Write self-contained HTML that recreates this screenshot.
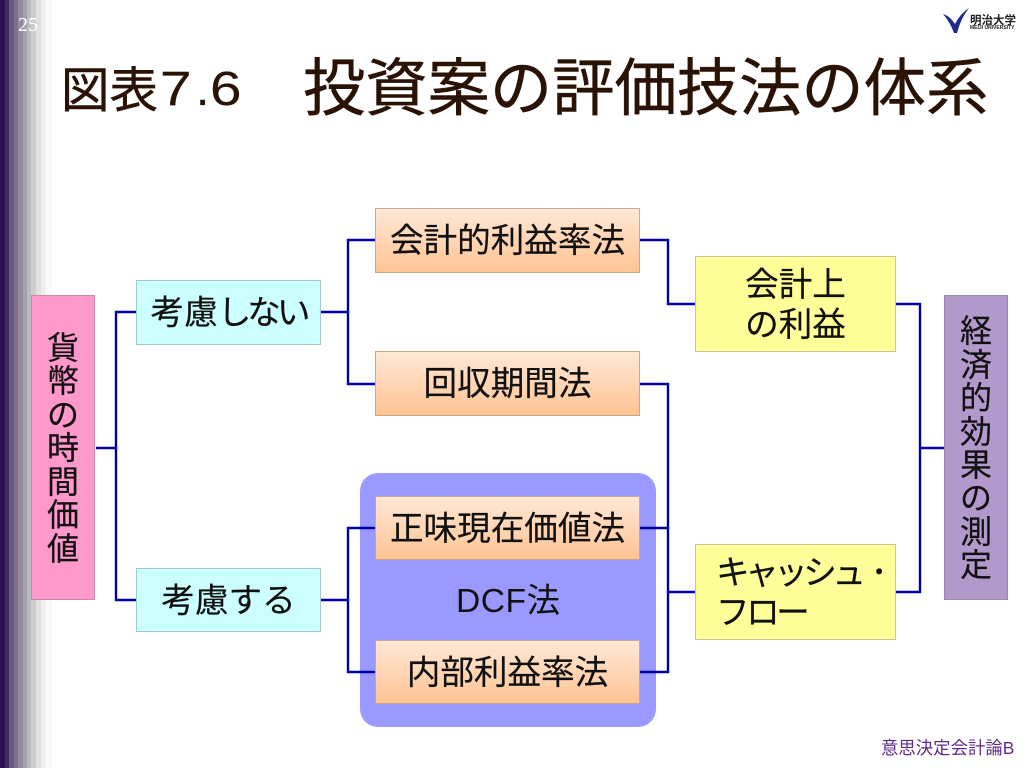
<!DOCTYPE html>
<html lang="ja"><head><meta charset="utf-8"><title>図表7.6</title>
<style>
html,body{margin:0;padding:0;background:#fff}
#p{position:relative;width:1024px;height:768px;overflow:hidden;background:#fff;font-family:"Liberation Sans","Noto Sans CJK JP",sans-serif;color:#111}
#p div{position:absolute;box-sizing:border-box}
.b{display:flex;align-items:center;justify-content:center;text-align:center;font-size:33.6px;line-height:40px;border:1px solid #b5b5a0;white-space:nowrap;z-index:2;padding-top:3px;-webkit-text-stroke:.2px #111}
.o{background:linear-gradient(#ffe8d6,#ffc494);border-color:#c9a98e}
.c{background:#ccffff;border-color:#a5c8c8}
.y{background:#ffff99;border-color:#c8c88c}
.v{line-height:33.4px;font-size:32px;white-space:normal;width:64px}
svg{position:absolute;left:0;top:0;z-index:1}
.t{color:#2a1205;-webkit-text-stroke:.5px #2a1205;white-space:nowrap}
</style></head><body><div id="p">
<div style="left:0;top:0;width:56px;height:768px;background:linear-gradient(90deg,#2b1155 0 5px,#3f2c60 5px 9px,#685a7a 9px 14px,#7d7088 14px 18px,#948a9c 18px 23px,#a8a2ae 23px 27px,#bdb9c0 27px 31px,#d0cdd0 31px 36px,#e2e0e0 36px 41px,#f0efee 41px 46px,#f9f9f7 46px 52px,#fff 52px)"></div>
<div style="left:18px;top:14px;font:20px 'Liberation Serif',serif;color:#fff">25</div>
<svg width="1024" height="768" style="z-index:0"><path d="M943 14 Q950 16 955 24 Q960 14 969 8 Q961 18 957 33 L954 33 Q950 22 943 14 Z" fill="#1f2a8c"/></svg>
<div style="left:970px;top:12px;font-size:11.5px;font-weight:bold;color:#222;white-space:nowrap">明治大学</div>
<div style="left:970px;top:25px;font-size:5px;font-weight:bold;color:#222;white-space:nowrap">MEIJI UNIVERSITY</div>
<div class="t" style="left:61px;top:63px;font-size:48.5px;line-height:56px">図表</div>
<div class="t" style="left:160px;top:62px;font-size:48px;line-height:56px;transform:scaleX(1.18);transform-origin:0 50%;-webkit-text-stroke:.2px #2a1205">7</div>
<div class="t" style="left:196px;top:62px;font-size:48px;line-height:56px;-webkit-text-stroke:.2px #2a1205">.</div>
<div class="t" style="left:210px;top:62px;font-size:48px;line-height:56px;transform:scaleX(1.18);transform-origin:0 50%;-webkit-text-stroke:.2px #2a1205">6</div>
<div class="t" style="left:303px;top:54px;font-size:62.3px;line-height:72px">投資案の評価技法の体系</div>
<div style="left:360px;top:473px;width:296px;height:254px;border-radius:18px;background:#9999ff"></div>
<div style="left:456px;top:582px;font-size:33.6px;line-height:40px;white-space:nowrap;z-index:2;letter-spacing:.5px">DCF法</div>
<svg width="1024" height="768"><g fill="none" stroke="#0000a0" stroke-width="2.4">
<path d="M96 448H116M136 312H116V600H136M320 312H348M376 240H348V384H376M320 600H348M376 528H348V672H376M640 240H668V304H696M640 384H668V672H640M640 528H668M668 592H696M896 304H920V592H896M920 448H944"/>
</g></svg>
<div class="b v" style="left:31px;top:295px;height:305px;background:#ff99cc;border-color:#c88aa8">貨<br>幣<br>の<br>時<br>間<br>価<br>値</div>
<div class="b v" style="left:944px;top:295px;height:305px;background:#b299cc;border-color:#9a88ac">経<br>済<br>的<br>効<br>果<br>の<br>測<br>定</div>
<div class="b c" style="left:136px;top:280px;width:185px;height:65px"><span>考慮<span style="letter-spacing:-4px">しない</span></span></div>
<div class="b c" style="left:136px;top:568px;width:185px;height:64px">考慮する</div>
<div class="b o" style="left:375px;top:208px;width:265px;height:65px">会計的利益率法</div>
<div class="b o" style="left:375px;top:351px;width:265px;height:65px">回収期間法</div>
<div class="b o" style="left:375px;top:496px;width:265px;height:64px">正味現在価値法</div>
<div class="b o" style="left:375px;top:640px;width:265px;height:64px">内部利益率法</div>
<div class="b y" style="left:695px;top:256px;width:201px;height:96px">会計上<br>の利益</div>
<div class="b y" style="left:695px;top:544px;width:201px;height:96px;justify-content:flex-start;text-align:left;padding-left:20px"><span><span style="letter-spacing:-4.5px">キャッシュ</span> ･<br><span style="letter-spacing:-3.5px">フロー</span></span></div>
<div style="left:881px;top:738px;font-size:17.4px;line-height:20px;color:#5e2a8c;white-space:nowrap">意思決定会計論B</div>
</div></body></html>
